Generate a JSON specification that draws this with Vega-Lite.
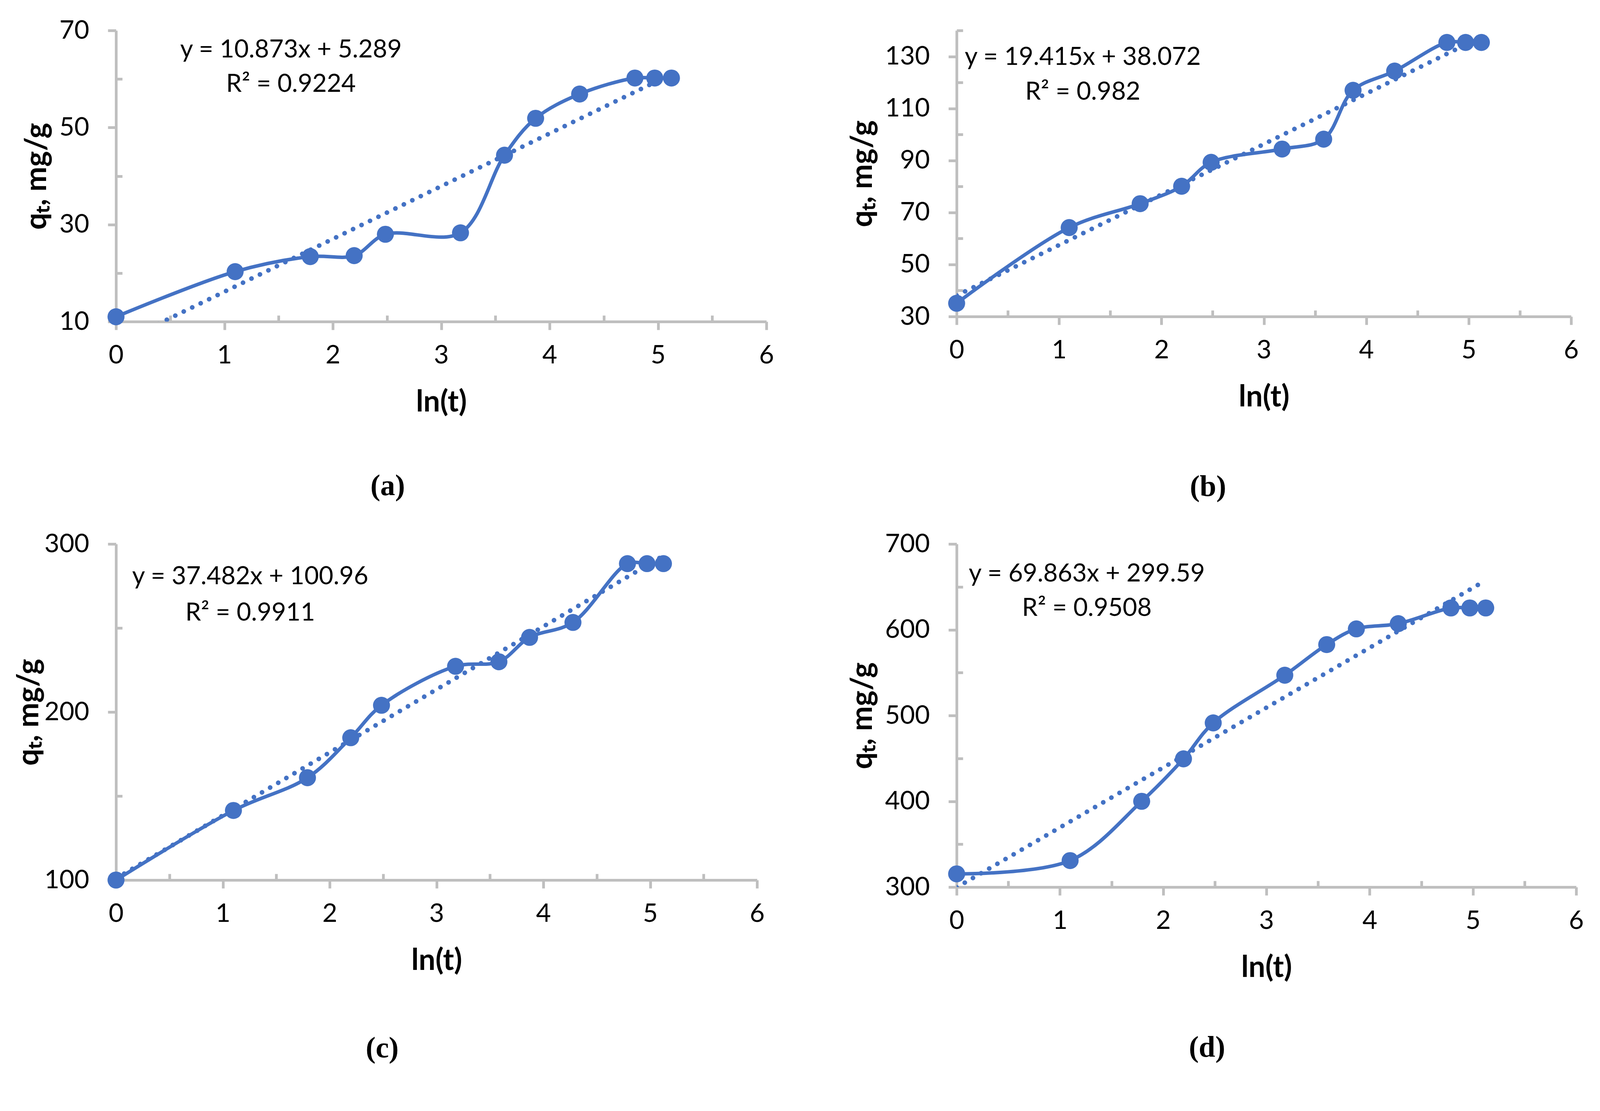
{
  "$schema": "https://vega.github.io/schema/vega-lite/v6.json",
  "background": "white",
  "padding": {"left": 36, "top": 45, "right": 20, "bottom": 20},
  "datasets": {
    "pts": [
      {"panel": "a", "lnt": 0, "q": 11.0},
      {"panel": "a", "lnt": 1.099, "q": 20.3},
      {"panel": "a", "lnt": 1.792, "q": 23.4},
      {"panel": "a", "lnt": 2.197, "q": 23.6},
      {"panel": "a", "lnt": 2.485, "q": 28.0},
      {"panel": "a", "lnt": 3.178, "q": 28.3},
      {"panel": "a", "lnt": 3.584, "q": 44.3},
      {"panel": "a", "lnt": 3.871, "q": 51.9},
      {"panel": "a", "lnt": 4.277, "q": 56.9},
      {"panel": "a", "lnt": 4.787, "q": 60.2},
      {"panel": "a", "lnt": 4.970, "q": 60.2},
      {"panel": "a", "lnt": 5.124, "q": 60.2},
      {"panel": "b", "lnt": 0, "q": 35.1},
      {"panel": "b", "lnt": 1.099, "q": 64.2},
      {"panel": "b", "lnt": 1.792, "q": 73.4},
      {"panel": "b", "lnt": 2.197, "q": 80.1},
      {"panel": "b", "lnt": 2.485, "q": 89.3},
      {"panel": "b", "lnt": 3.178, "q": 94.4},
      {"panel": "b", "lnt": 3.584, "q": 98.2},
      {"panel": "b", "lnt": 3.871, "q": 117.0},
      {"panel": "b", "lnt": 4.277, "q": 124.4},
      {"panel": "b", "lnt": 4.787, "q": 135.4},
      {"panel": "b", "lnt": 4.970, "q": 135.4},
      {"panel": "b", "lnt": 5.124, "q": 135.4},
      {"panel": "c", "lnt": 0, "q": 100.0},
      {"panel": "c", "lnt": 1.099, "q": 141.4},
      {"panel": "c", "lnt": 1.792, "q": 160.9},
      {"panel": "c", "lnt": 2.197, "q": 184.7},
      {"panel": "c", "lnt": 2.485, "q": 204.0},
      {"panel": "c", "lnt": 3.178, "q": 227.2},
      {"panel": "c", "lnt": 3.584, "q": 229.9},
      {"panel": "c", "lnt": 3.871, "q": 244.4},
      {"panel": "c", "lnt": 4.277, "q": 253.3},
      {"panel": "c", "lnt": 4.787, "q": 288.3},
      {"panel": "c", "lnt": 4.970, "q": 288.3},
      {"panel": "c", "lnt": 5.124, "q": 288.3},
      {"panel": "d", "lnt": 0, "q": 315.4},
      {"panel": "d", "lnt": 1.099, "q": 330.9},
      {"panel": "d", "lnt": 1.792, "q": 400.0},
      {"panel": "d", "lnt": 2.197, "q": 449.5},
      {"panel": "d", "lnt": 2.485, "q": 491.4},
      {"panel": "d", "lnt": 3.178, "q": 547.0},
      {"panel": "d", "lnt": 3.584, "q": 582.7},
      {"panel": "d", "lnt": 3.871, "q": 601.0},
      {"panel": "d", "lnt": 4.277, "q": 607.1},
      {"panel": "d", "lnt": 4.787, "q": 625.4},
      {"panel": "d", "lnt": 4.970, "q": 625.4},
      {"panel": "d", "lnt": 5.124, "q": 625.4}
    ],
    "trend": [
      {"panel": "a", "lnt": 0, "q": 5.289},
      {"panel": "a", "lnt": 5.124, "q": 61.00},
      {"panel": "b", "lnt": 0, "q": 38.072},
      {"panel": "b", "lnt": 5.124, "q": 137.55},
      {"panel": "c", "lnt": 0, "q": 100.96},
      {"panel": "c", "lnt": 5.124, "q": 293.03},
      {"panel": "d", "lnt": 0, "q": 299.59},
      {"panel": "d", "lnt": 5.124, "q": 657.57}
    ],
    "labels": [
      {"panel": "a", "eq": "y = 10.873x + 5.289", "r2": "R² = 0.9224"},
      {"panel": "b", "eq": "y = 19.415x + 38.072", "r2": "R² = 0.982"},
      {"panel": "c", "eq": "y = 37.482x + 100.96", "r2": "R² = 0.9911"},
      {"panel": "d", "eq": "y = 69.863x + 299.59", "r2": "R² = 0.9508"}
    ]
  },
  "columns": 1,
  "align": "none",
  "spacing": 75,
  "concat": [
    {
      "bounds": "flush",
      "spacing": 487,
      "hconcat": [
        {
          "width": 1665,
          "height": 745,
          "title": {"text": "(a)", "dx": -137},
          "layer": [
            {
              "encoding": {
                "x": {"field": "lnt", "type": "quantitative", "title": "ln(t)",
                  "scale": {"domain": [0, 6]},
                  "axis": {"values": [0, 0.5, 1, 1.5, 2, 2.5, 3, 3.5, 4, 4.5, 5, 5.5, 6],
                    "labelExpr": "datum.value % 1 ? '' : format(datum.value, 'd')",
                    "tickSize": {"condition": {"test": "datum.value % 1 != 0", "value": -16}, "value": 21}}},
                "y": {"field": "q", "type": "quantitative", "title": "qₜ, mg/g",
                  "scale": {"domain": [10, 70]},
                  "axis": {"values": [10, 20, 30, 40, 50, 60, 70],
                    "labelExpr": "(datum.value - 10) % 20 ? '' : datum.label",
                    "tickSize": {"condition": {"test": "(datum.value - 10) % 20 != 0", "value": -16}, "value": 21}}}
              },
              "layer": [
                {"data": {"name": "trend"}, "transform": [{"filter": "datum.panel == 'a'"}],
                  "mark": {"type": "line", "clip": true, "strokeDash": [0.1, 24], "strokeCap": "round", "strokeWidth": 12, "color": "#4472C4"}},
                {"data": {"name": "pts"}, "transform": [{"filter": "datum.panel == 'a'"}],
                  "mark": {"type": "line", "interpolate": "catmull-rom", "strokeWidth": 9, "color": "#4472C4"}},
                {"data": {"name": "pts"}, "transform": [{"filter": "datum.panel == 'a'"}],
                  "mark": {"type": "circle"}}
              ]
            },
            {"data": {"name": "labels"}, "transform": [{"filter": "datum.panel == 'a'"}],
              "mark": {"type": "text"},
              "encoding": {"x": {"datum": 1.614}, "y": {"datum": 66.0}, "text": {"field": "eq"}}},
            {"data": {"name": "labels"}, "transform": [{"filter": "datum.panel == 'a'"}],
              "mark": {"type": "text"},
              "encoding": {"x": {"datum": 1.614}, "y": {"datum": 58.9}, "text": {"field": "r2"}}}
          ]
        },
        {
          "width": 1573,
          "height": 732,
          "title": {"text": "(b)", "dx": -143, "offset": 155},
          "layer": [
            {
              "encoding": {
                "x": {"field": "lnt", "type": "quantitative", "title": "ln(t)",
                  "scale": {"domain": [0, 6]},
                  "axis": {"values": [0, 0.5, 1, 1.5, 2, 2.5, 3, 3.5, 4, 4.5, 5, 5.5, 6],
                    "labelExpr": "datum.value % 1 ? '' : format(datum.value, 'd')",
                    "tickSize": {"condition": {"test": "datum.value % 1 != 0", "value": -16}, "value": 21}}},
                "y": {"field": "q", "type": "quantitative", "title": "qₜ, mg/g",
                  "scale": {"domain": [30, 140]},
                  "axis": {"values": [30, 40, 50, 60, 70, 80, 90, 100, 110, 120, 130, 140],
                    "labelExpr": "(datum.value - 30) % 20 ? '' : datum.label",
                    "tickSize": {"condition": {"test": "(datum.value - 30) % 20 != 0", "value": -16}, "value": 21}}}
              },
              "layer": [
                {"data": {"name": "trend"}, "transform": [{"filter": "datum.panel == 'b'"}],
                  "mark": {"type": "line", "clip": true, "strokeDash": [0.1, 24], "strokeCap": "round", "strokeWidth": 12, "color": "#4472C4"}},
                {"data": {"name": "pts"}, "transform": [{"filter": "datum.panel == 'b'"}],
                  "mark": {"type": "line", "interpolate": "catmull-rom", "strokeWidth": 9, "color": "#4472C4"}},
                {"data": {"name": "pts"}, "transform": [{"filter": "datum.panel == 'b'"}],
                  "mark": {"type": "circle"}}
              ]
            },
            {"data": {"name": "labels"}, "transform": [{"filter": "datum.panel == 'b'"}],
              "mark": {"type": "text"},
              "encoding": {"x": {"datum": 1.232}, "y": {"datum": 129.7}, "text": {"field": "eq"}}},
            {"data": {"name": "labels"}, "transform": [{"filter": "datum.panel == 'b'"}],
              "mark": {"type": "text"},
              "encoding": {"x": {"datum": 1.232}, "y": {"datum": 116.3}, "text": {"field": "r2"}}}
          ]
        }
      ]
    },
    {
      "bounds": "flush",
      "spacing": 511,
      "hconcat": [
        {
          "width": 1641,
          "height": 860,
          "title": {"text": "(c)", "dx": -139, "offset": 150},
          "layer": [
            {
              "encoding": {
                "x": {"field": "lnt", "type": "quantitative", "title": "ln(t)",
                  "scale": {"domain": [0, 6]},
                  "axis": {"values": [0, 0.5, 1, 1.5, 2, 2.5, 3, 3.5, 4, 4.5, 5, 5.5, 6],
                    "labelExpr": "datum.value % 1 ? '' : format(datum.value, 'd')",
                    "tickSize": {"condition": {"test": "datum.value % 1 != 0", "value": -16}, "value": 21}}},
                "y": {"field": "q", "type": "quantitative", "title": "qₜ, mg/g",
                  "scale": {"domain": [100, 300]},
                  "axis": {"values": [100, 150, 200, 250, 300], "titlePadding": 0,
                    "labelExpr": "datum.value % 100 ? '' : datum.label",
                    "tickSize": {"condition": {"test": "datum.value % 100 != 0", "value": -16}, "value": 21}}}
              },
              "layer": [
                {"data": {"name": "trend"}, "transform": [{"filter": "datum.panel == 'c'"}],
                  "mark": {"type": "line", "clip": true, "strokeDash": [0.1, 24], "strokeCap": "round", "strokeWidth": 12, "color": "#4472C4"}},
                {"data": {"name": "pts"}, "transform": [{"filter": "datum.panel == 'c'"}],
                  "mark": {"type": "line", "interpolate": "catmull-rom", "strokeWidth": 9, "color": "#4472C4"}},
                {"data": {"name": "pts"}, "transform": [{"filter": "datum.panel == 'c'"}],
                  "mark": {"type": "circle"}}
              ]
            },
            {"data": {"name": "labels"}, "transform": [{"filter": "datum.panel == 'c'"}],
              "mark": {"type": "text"},
              "encoding": {"x": {"datum": 1.256}, "y": {"datum": 280.4}, "text": {"field": "eq"}}},
            {"data": {"name": "labels"}, "transform": [{"filter": "datum.panel == 'c'"}],
              "mark": {"type": "text"},
              "encoding": {"x": {"datum": 1.256}, "y": {"datum": 258.9}, "text": {"field": "r2"}}}
          ]
        },
        {
          "width": 1586,
          "height": 878,
          "title": {"text": "(d)", "dx": -152, "offset": 130},
          "layer": [
            {
              "encoding": {
                "x": {"field": "lnt", "type": "quantitative", "title": "ln(t)",
                  "scale": {"domain": [0, 6]},
                  "axis": {"values": [0, 0.5, 1, 1.5, 2, 2.5, 3, 3.5, 4, 4.5, 5, 5.5, 6],
                    "labelExpr": "datum.value % 1 ? '' : format(datum.value, 'd')",
                    "tickSize": {"condition": {"test": "datum.value % 1 != 0", "value": -16}, "value": 21}}},
                "y": {"field": "q", "type": "quantitative", "title": "qₜ, mg/g",
                  "scale": {"domain": [300, 700]},
                  "axis": {"values": [300, 350, 400, 450, 500, 550, 600, 650, 700],
                    "labelExpr": "datum.value % 100 ? '' : datum.label",
                    "tickSize": {"condition": {"test": "datum.value % 100 != 0", "value": -16}, "value": 21}}}
              },
              "layer": [
                {"data": {"name": "trend"}, "transform": [{"filter": "datum.panel == 'd'"}],
                  "mark": {"type": "line", "clip": true, "strokeDash": [0.1, 24], "strokeCap": "round", "strokeWidth": 12, "color": "#4472C4"}},
                {"data": {"name": "pts"}, "transform": [{"filter": "datum.panel == 'd'"}],
                  "mark": {"type": "line", "interpolate": "catmull-rom", "strokeWidth": 9, "color": "#4472C4"}},
                {"data": {"name": "pts"}, "transform": [{"filter": "datum.panel == 'd'"}],
                  "mark": {"type": "circle"}}
              ]
            },
            {"data": {"name": "labels"}, "transform": [{"filter": "datum.panel == 'd'"}],
              "mark": {"type": "text"},
              "encoding": {"x": {"datum": 1.261}, "y": {"datum": 664.8}, "text": {"field": "eq"}}},
            {"data": {"name": "labels"}, "transform": [{"filter": "datum.panel == 'd'"}],
              "mark": {"type": "text"},
              "encoding": {"x": {"datum": 1.261}, "y": {"datum": 624.9}, "text": {"field": "r2"}}}
          ]
        }
      ]
    }
  ],
  "config": {
    "view": {"stroke": null},
    "circle": {"size": 1900, "opacity": 1, "color": "#4472C4"},
    "text": {"font": "Lato", "fontSize": 64, "color": "#000000", "align": "center", "baseline": "middle"},
    "axis": {
      "grid": false,
      "domainColor": "#BFBFBF",
      "domainWidth": 7,
      "tickColor": "#BFBFBF",
      "tickWidth": 7,
      "labelFont": "Lato",
      "labelFontSize": 66,
      "labelColor": "#000000",
      "labelOverlap": false,
      "titleFont": "Lato",
      "titleFontSize": 76,
      "titleFontWeight": "bold",
      "titleColor": "#000000"
    },
    "axisX": {"labelPadding": 33, "titlePadding": 50, "labelFlush": false},
    "axisY": {"labelPadding": 48, "titlePadding": 18},
    "title": {"orient": "bottom", "anchor": "middle", "font": "Liberation Serif", "fontSize": 76, "fontWeight": "bold", "color": "#000000", "offset": 140}
  }
}
